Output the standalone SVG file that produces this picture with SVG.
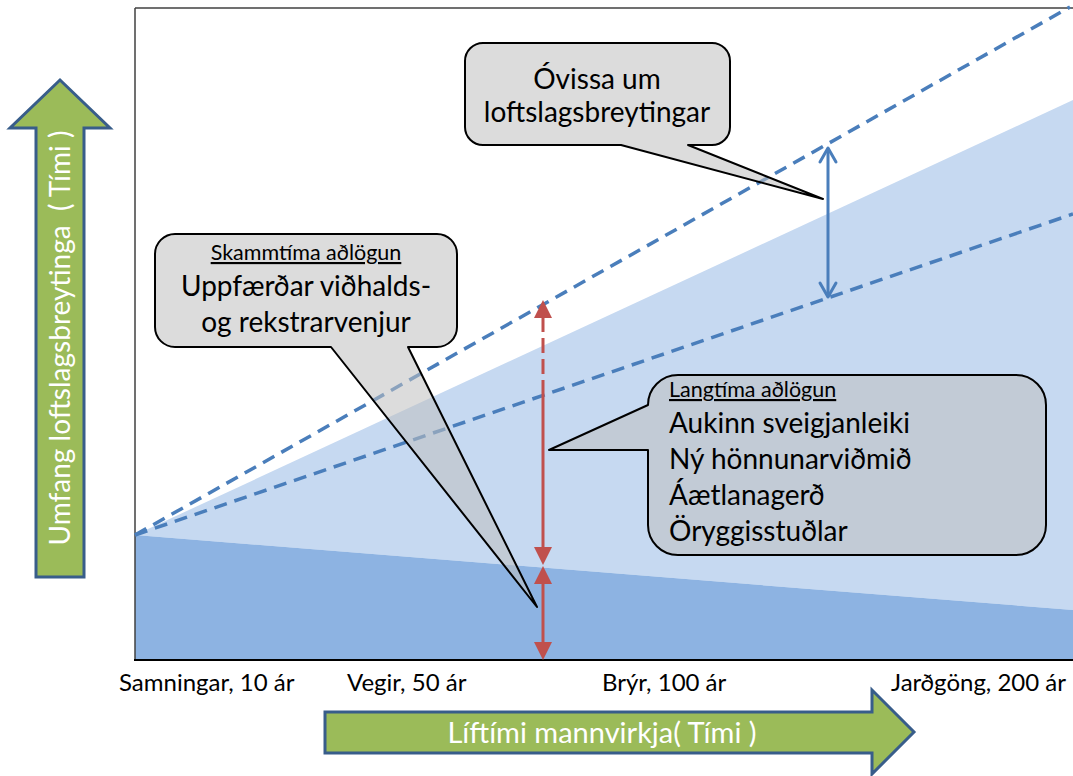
<svg xmlns="http://www.w3.org/2000/svg" width="1073" height="776" viewBox="0 0 1073 776">
<style>
.lbl{font-family:Lato,"Liberation Sans",sans-serif;fill:#000}
.wt{font-family:Lato,"Liberation Sans",sans-serif;fill:#fff}
.callout{fill:#bfbfbf;fill-opacity:0.55;stroke:#000;stroke-width:2;stroke-linejoin:round}
.dash{fill:none;stroke:#4a7ebb;stroke-width:3.5;stroke-dasharray:13 8}
.green{fill:#9bbb59;stroke:#385d8a;stroke-width:3;stroke-linejoin:miter}
.red{stroke:#c0504d;stroke-width:3;fill:none}
.redhead{fill:#c0504d}
.blue{stroke:#4a7ebb;stroke-width:3;fill:none;stroke-linecap:round;stroke-linejoin:round}
</style>
<rect width="1073" height="776" fill="#fff"/>
<g id="chart-area">
<polygon points="135,535 1073,100 1073,610" fill="#c6d9f1"/>
<polygon points="135,535 1073,610 1073,660 135,660" fill="#8db3e2"/>
<polyline points="135,8 1073,8" stroke="#404040" stroke-width="1.5" fill="none"/>
<polyline points="135,8 135,660" stroke="#404040" stroke-width="1.5" fill="none"/>
<line x1="134" y1="660" x2="1073" y2="660" stroke="#000" stroke-width="2"/>
</g>
<g id="connectors">
<line class="dash" x1="135" y1="535" x2="1070" y2="7"/>
<line class="dash" x1="135" y1="535" x2="1073" y2="214"/>
<g id="red-arrow">
<line class="red" x1="543" y1="317" x2="543" y2="393" stroke-dasharray="15 6"/>
<line class="red" x1="543" y1="393" x2="543" y2="549"/>
<polygon class="redhead" points="543,300 534,318 552,318"/>
<polygon class="redhead" points="543,565 534,547 552,547"/>
<polygon class="redhead" points="543,566 534,584 552,584"/>
<line class="red" x1="543" y1="583" x2="543" y2="643"/>
<polygon class="redhead" points="543,660 534,642 552,642"/>
</g>
<g id="blue-arrow">
<line class="blue" x1="828" y1="149" x2="828" y2="296"/>
<polyline class="blue" points="820,162 828,148 836,162"/>
<polyline class="blue" points="820,283 828,297 836,283"/>
</g>
</g>
<g id="callout-uncertainty">
<path class="callout" d="M483,43 H712 A18,18 0 0 1 730,61 V127 A18,18 0 0 1 712,145 H688 L823,199 L621,145 H483 A18,18 0 0 1 465,127 V61 A18,18 0 0 1 483,43 Z"/>
<text class="lbl" x="597" y="89" font-size="28" text-anchor="middle">Óvissa um</text>
<text class="lbl" x="597" y="122" font-size="28" text-anchor="middle">loftslagsbreytingar</text>
</g>
<g id="callout-short">
<path class="callout" d="M175,234 H437 A20,20 0 0 1 457,254 V327 A20,20 0 0 1 437,347 H408 L537,607 L331,347 H175 A20,20 0 0 1 155,327 V254 A20,20 0 0 1 175,234 Z"/>
<text class="lbl" x="306" y="260" font-size="21.5" text-anchor="middle" text-decoration="underline">Skammtíma aðlögun</text>
<text class="lbl" x="306" y="296" font-size="28" text-anchor="middle">Uppfærðar viðhalds-</text>
<text class="lbl" x="306" y="332" font-size="28" text-anchor="middle">og rekstrarvenjur</text>
</g>
<g id="callout-long">
<path class="callout" d="M678,375 H1016 A30,30 0 0 1 1046,405 V525 A30,30 0 0 1 1016,555 H678 A30,30 0 0 1 648,525 V450 H549 L648,405 A30,30 0 0 1 678,375 Z"/>
<text class="lbl" x="669" y="397" font-size="21.5" text-decoration="underline">Langtíma aðlögun</text>
<text class="lbl" x="669" y="433" font-size="28">Aukinn sveigjanleiki</text>
<text class="lbl" x="669" y="469" font-size="28">Ný hönnunarviðmið</text>
<text class="lbl" x="669" y="505" font-size="28">Áætlanagerð</text>
<text class="lbl" x="669" y="541" font-size="28">Öryggisstuðlar</text>
</g>
<g id="x-labels">
<text class="lbl" x="119" y="691" font-size="24">Samningar, 10 ár</text>
<text class="lbl" x="347" y="691" font-size="24">Vegir, 50 ár</text>
<text class="lbl" x="602" y="691" font-size="24">Brýr, 100 ár</text>
<text class="lbl" x="891" y="691" font-size="24">Jarðgöng, 200 ár</text>
</g>
<g id="y-axis-arrow">
<polygon class="green" points="36,577 36,128 10,128 60,80 110,128 84,128 84,577"/>
<text class="wt" transform="translate(70,338) rotate(-90)" font-size="28" text-anchor="middle" xml:space="preserve">Umfang loftslagsbreytinga  ( Tími )</text>
</g>
<g id="x-axis-arrow">
<polygon class="green" points="325,712 872,712 872,690 914,732 872,774 872,753 325,753"/>
<text class="wt" x="602" y="743" font-size="29" text-anchor="middle" xml:space="preserve">Líftími mannvirkja( Tími )</text>
</g>
</svg>
